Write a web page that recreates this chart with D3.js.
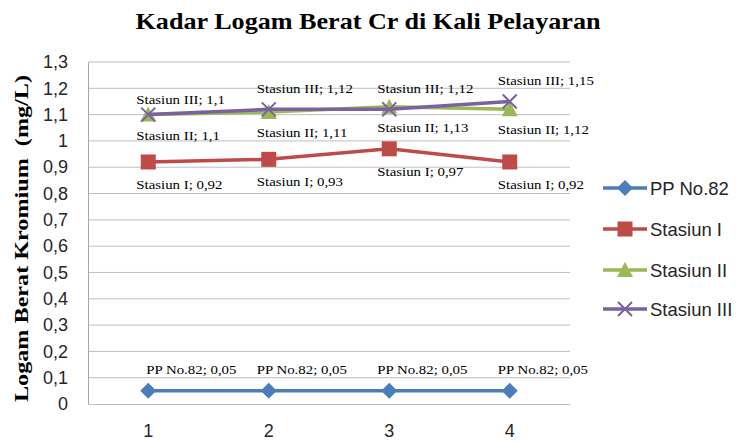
<!DOCTYPE html>
<html><head><meta charset="utf-8">
<script src="https://cdn.jsdelivr.net/npm/d3@7"></script>
<style>body{margin:0;background:#fff}svg{display:block}</style>
</head><body>
<script>
const categories = ["1","2","3","4"];
const ppNo82 = [0.05,0.05,0.05,0.05];
const stasiunI = [0.92,0.93,0.97,0.92];
const stasiunII = [1.1,1.11,1.13,1.12];
const stasiunIII = [1.1,1.12,1.12,1.15];
const yTicks = [0,0.1,0.2,0.3,0.4,0.5,0.6,0.7,0.8,0.9,1,1.1,1.2,1.3];
const seriesNames = ["PP No.82","Stasiun I","Stasiun II","Stasiun III"];

const W=736,H=443;
const svg=d3.select("body").append("svg").attr("width",W).attr("height",H);
const m={l:88,r:570,t:62,b:404};
const x=d3.scaleBand().domain(categories).range([m.l,m.r]);
const y=d3.scaleLinear().domain([0,1.3]).range([m.b,m.t]);
const fmt=v=>String(v).replace(".",",");

// title
svg.append("text").attr("x",368).attr("y",29).attr("text-anchor","middle")
 .attr("font-family","Liberation Serif").attr("font-weight","bold").attr("font-size",24)
 .attr("textLength",465).attr("lengthAdjust","spacingAndGlyphs")
 .attr("fill","#000").text("Kadar Logam Berat Cr di Kali Pelayaran");

// grid
svg.append("g").selectAll("line").data(yTicks.slice(1)).join("line")
 .attr("x1",m.l).attr("x2",m.r).attr("y1",d=>y(d)).attr("y2",d=>y(d))
 .attr("stroke","#bfbfbf").attr("stroke-width",1);

// y axis
const ya=svg.append("g").attr("transform",`translate(${m.l},0)`)
 .call(d3.axisLeft(y).tickValues(yTicks).tickFormat(fmt).tickSize(0).tickPadding(20));
ya.select(".domain").attr("stroke","#a6a6a6");
ya.selectAll("text").attr("font-family","Liberation Sans").attr("font-size",18).attr("fill","#262626");
// x axis
const xa=svg.append("g").attr("transform",`translate(0,${m.b})`)
 .call(d3.axisBottom(x).tickSize(0).tickPadding(20));
xa.select(".domain").attr("stroke","#bfbfbf");
xa.selectAll("text").attr("font-family","Liberation Sans").attr("font-size",18).attr("fill","#262626");

// y title
svg.append("text").attr("transform",`translate(28,${(75+402)/2}) rotate(-90)`)
 .attr("text-anchor","middle").attr("font-family","Liberation Serif").attr("font-weight","bold")
 .attr("font-size",19).attr("fill","#000").attr("xml:space","preserve")
 .attr("textLength",327).attr("lengthAdjust","spacingAndGlyphs")
 .text("Logam Berat Kromium  (mg/L)");

const series=[
 {name:seriesNames[0],vals:ppNo82,color:"#4a7ebb",marker:"diamond",dy:-17},
 {name:seriesNames[1],vals:stasiunI,color:"#be4b48",marker:"square",dy:27},
 {name:seriesNames[2],vals:stasiunII,color:"#98b954",marker:"triangle",dy:25},
 {name:seriesNames[3],vals:stasiunIII,color:"#7d60a0",marker:"x",dy:-11}
];
const cx=c=>x(c)+x.bandwidth()/2;
const line=d3.line().x((d,i)=>cx(categories[i])).y(d=>y(d));

function drawMarker(g,type,color,px,py){
 if(type==="diamond") g.append("path").attr("d",`M${px},${py-8}L${px+8},${py}L${px},${py+8}L${px-8},${py}Z`).attr("fill",color);
 else if(type==="square") g.append("rect").attr("x",px-7.5).attr("y",py-7.5).attr("width",15).attr("height",15).attr("fill",color);
 else if(type==="triangle") g.append("path").attr("d",`M${px},${py-8}L${px+8},${py+7}L${px-8},${py+7}Z`).attr("fill",color);
 else g.append("path").attr("d",`M${px-7},${py-7}L${px+7},${py+7}M${px+7},${py-7}L${px-7},${py+7}`).attr("stroke",color).attr("stroke-width",2);
}

series.forEach(s=>{
 const g=svg.append("g");
 g.append("path").datum(s.vals).attr("d",line).attr("fill","none").attr("stroke",s.color).attr("stroke-width",3.5);
 s.vals.forEach((v,i)=>drawMarker(g,s.marker,s.color,cx(categories[i]),y(v)));
});
// labels
series.forEach(s=>{
 s.vals.forEach((v,i)=>{
  let dx=-12;
  if(s.name==="PP No.82"&&i===0) dx=-2;
  let dy=s.dy;
  if(s.name==="Stasiun III"&&i>0) dy=-16;
  const t=svg.append("text").attr("x",cx(categories[i])+dx).attr("y",y(v)+dy)
   .attr("font-family","Liberation Serif").attr("font-size",13.5).attr("fill","#000")
   .text(`${s.name}; ${fmt(v)}`);
  const w=t.node().getComputedTextLength();
  t.attr("textLength",w*1.1).attr("lengthAdjust","spacingAndGlyphs");
 });
});

// legend
const ly=[188,229,270,309];
series.forEach((s,i)=>{
 const g=svg.append("g");
 g.append("line").attr("x1",603).attr("x2",647).attr("y1",ly[i]).attr("y2",ly[i]).attr("stroke",s.color).attr("stroke-width",3.5);
 drawMarker(g,s.marker,s.color,625,ly[i]);
 g.append("text").attr("x",650).attr("y",ly[i]+6.5).attr("font-family","Liberation Sans").attr("font-size",18.5).attr("fill","#262626").text(s.name);
});
</script>
</body></html>
